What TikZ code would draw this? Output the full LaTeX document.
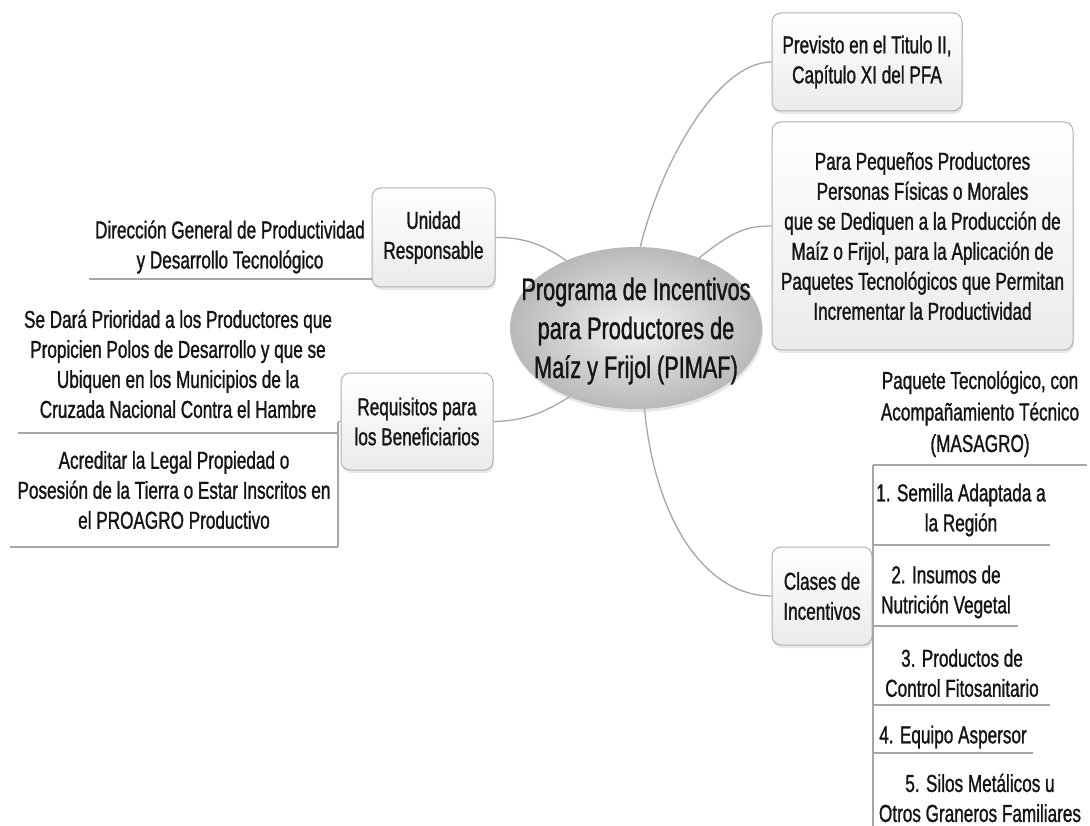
\documentclass[tikz,border=0pt]{standalone}
\usepackage{fontspec}
\setmainfont{Liberation Sans}[FakeStretch=0.70,FakeBold=1.1]
\usetikzlibrary{shapes.geometric,shadows}
\begin{document}
\begin{tikzpicture}[x=1pt,y=-1pt,
  txt/.style={align=center, inner sep=0pt, font=\fontsize{24.5}{30}\selectfont, text=black!92},
  topic/.style={draw=gray!60, line width=1pt, rounded corners=9pt, top color=white, bottom color=gray!16, inner sep=0pt, align=center, font=\fontsize{24.5}{30}\selectfont, text=black!92, drop shadow={opacity=0.18, shadow xshift=1pt, shadow yshift=-3pt}},
  conn/.style={draw=gray!70, line width=1.3pt},
  uline/.style={draw=gray!70, line width=1.2pt},
]
\fill[white] (0,0) rectangle (1090,826);
\useasboundingbox (0,0) rectangle (1090,826);

% central topic
\node[ellipse, minimum width=252pt, minimum height=162pt, inner sep=0pt, inner color=gray!10, outer color=gray!55, drop shadow={opacity=0.2, shadow xshift=1pt, shadow yshift=-3pt}] (c) at (636,328) {};
\node[txt, font=\fontsize{31}{39}\selectfont] (ct) at (636,331) {Programa de Incentivos\\para Productores de\\Maíz y Frijol (PIMAF)};

% main topics
\node[topic, minimum width=190pt, minimum height=98pt] (prev) at (867,62) {Previsto en el Titulo II,\\Capítulo XI del PFA};
\node[topic, minimum width=301pt, minimum height=228pt] (para) at (922.5,236) {Para Pequeños Productores\\Personas Físicas o Morales\\que se Dediquen a la Producción de\\Maíz o Frijol, para la Aplicación de\\Paquetes Tecnológicos que Permitan\\Incrementar la Productividad};
\node[topic, minimum width=123pt, minimum height=99pt] (unid) at (433.5,237.5) {Unidad\\Responsable};
\node[topic, minimum width=152pt, minimum height=97pt] (req) at (417,421.5) {Requisitos para\\los Beneficiarios};
\node[topic, minimum width=100pt, minimum height=98pt] (clas) at (822,596) {Clases de\\Incentivos};

% connectors from centre
\draw[conn] (c.87) .. controls (662,160) and (718,62) .. (prev.west);
\draw[conn] (c.48) .. controls (732,232) and (745,226) .. ([yshift=10pt]para.west);
\draw[conn] (c.136) .. controls (548,248) and (528,237) .. (unid.east);
\draw[conn] (c.226) .. controls (548,410) and (528,421) .. (req.east);
\draw[conn] (c.276) .. controls (655,520) and (705,596) .. (clas.west);

% left subtopics
\node[txt] (dir) at (230,247) {Dirección General de Productividad\\y Desarrollo Tecnológico};
\coordinate (dirL) at (89,279);
\coordinate (dirR) at (372,279);
\draw[uline] (dirL) -- (dirR);

\node[txt] (se) at (178,364) {Se Dará Prioridad a los Productores que\\Propicien Polos de Desarrollo y que se\\Ubiquen en los Municipios de la\\Cruzada Nacional Contra el Hambre};
\node[txt] (ac) at (174,490) {Acreditar la Legal Propiedad o\\Posesión de la Tierra o Estar Inscritos en\\el PROAGRO Productivo};
\coordinate (seL) at (18,433);
\coordinate (seR) at (338,433);
\coordinate (acL) at (10,547);
\coordinate (acR) at (338,547);
\coordinate (ltop) at (338,421.5);
\draw[uline] (seL) -- (seR);
\draw[uline] (acL) -- (acR);
\draw[uline] (ltop) -- (acR);
\draw[uline] (req.west) -- (ltop);

% right subtopics
\node[txt, font=\fontsize{24.5}{31.5}\selectfont] (paq) at (980,414) {Paquete Tecnológico, con\\Acompañamiento Técnico\\(MASAGRO)};
\node[txt] (s1) at (961,510) {1. Semilla Adaptada a\\la Región};
\node[txt] (s2) at (946,592) {2. Insumos de\\Nutrición Vegetal};
\node[txt] (s3) at (962,673) {3. Productos de\\Control Fitosanitario};
\node[txt] (s4) at (953,737) {4. Equipo Aspersor};
\node[txt] (s5) at (980,798) {5. Silos Metálicos u\\Otros Graneros Familiares};

\coordinate (rtop) at (873,465);
\coordinate (rbot) at (873,826);
\coordinate (u0) at (1087,465);
\coordinate (u1a) at (873,545);
\coordinate (u1b) at (1050,545);
\coordinate (u2a) at (873,626);
\coordinate (u2b) at (1018,626);
\coordinate (u3a) at (873,705);
\coordinate (u3b) at (1050,705);
\coordinate (u4a) at (873,753);
\coordinate (u4b) at (1033,753);
\draw[uline] (rtop) -- (rbot);
\draw[uline] (rtop) -- (u0);
\draw[uline] (u1a) -- (u1b);
\draw[uline] (u2a) -- (u2b);
\draw[uline] (u3a) -- (u3b);
\draw[uline] (u4a) -- (u4b);
\end{tikzpicture}
\end{document}
